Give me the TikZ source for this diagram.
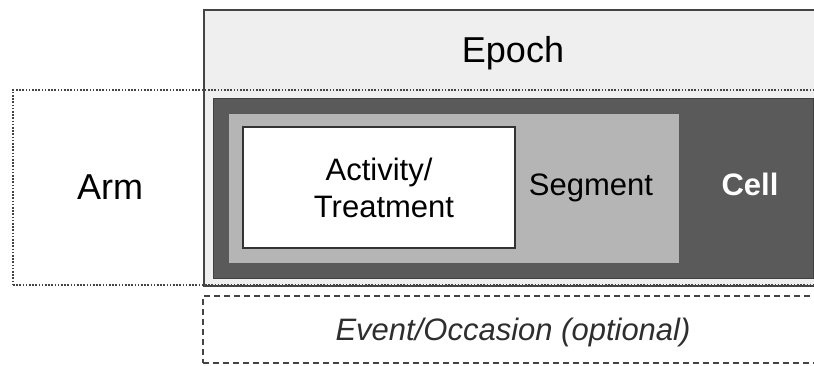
\documentclass[tikz,border=0pt]{standalone}
\usepackage{fontspec}
\setmainfont{Liberation Sans}
\usetikzlibrary{positioning}
\definecolor{epochfill}{HTML}{EFEFEF}
\definecolor{cellfill}{HTML}{5A5A5A}
\definecolor{segfill}{HTML}{B5B5B5}
\definecolor{edge}{HTML}{444444}
\definecolor{softtext}{HTML}{2E2E2E}
\tikzset{
  x=1pt, y=1pt,
  frame/.style={draw=edge, inner sep=0pt, outer sep=0pt, anchor=north west},
  epochbox/.style={frame, fill=epochfill, line width=1.8pt},
  armbox/.style={frame, dash pattern=on 1.6pt off 1.6pt, line width=1.7pt, draw=edge},
  cellbox/.style={frame, fill=cellfill, line width=1pt, draw=black!75},
  segbox/.style={frame, fill=segfill, line width=1pt, draw=black!65},
  actbox/.style={frame, fill=white, line width=1.8pt, draw=black!80},
  eventbox/.style={frame, dash pattern=on 6pt off 4pt, line width=1.4pt, draw=edge},
  bigtext/.style={font=\fontsize{36}{40}\selectfont, anchor=base, inner sep=0pt},
  midtext/.style={font=\fontsize{31}{37}\selectfont, anchor=base, inner sep=0pt},
}
\begin{document}
\begin{tikzpicture}
\useasboundingbox (0,0) rectangle (814,-365);
% nested containers
\node[epochbox, minimum width=630, minimum height=276] (epoch) at (204,-10) {};
\node[cellbox, minimum width=600, minimum height=180] (cell) at (213,-98) {};
\node[segbox, minimum width=451, minimum height=150] (segment) at (228,-113) {};
\node[actbox, minimum width=272, minimum height=121] (activity) at (243,-127) {};
\node[armbox, minimum width=820, minimum height=195] (arm) at (13,-90) {};
\node[eventbox, minimum width=630, minimum height=67] (event) at (203,-296) {};
% labels
\node[bigtext] (epochlbl) at (513,-62) {Epoch};
\node[bigtext] (armlbl) at (110,-199) {Arm};
\node[midtext] (actlbl1) at (379,-180) {Activity/};
\node[midtext] (actlbl2) at (384,-217) {Treatment};
\node[midtext] (seglbl) at (591,-195) {Segment};
\node[midtext, text=white, font=\fontsize{31}{37}\selectfont\bfseries] (celllbl) at (750,-195) {Cell};
\node[midtext, text=softtext, font=\fontsize{31}{37}\selectfont\itshape] (eventlbl) at (513,-340) {Event/Occasion (optional)};
\end{tikzpicture}
\end{document}
